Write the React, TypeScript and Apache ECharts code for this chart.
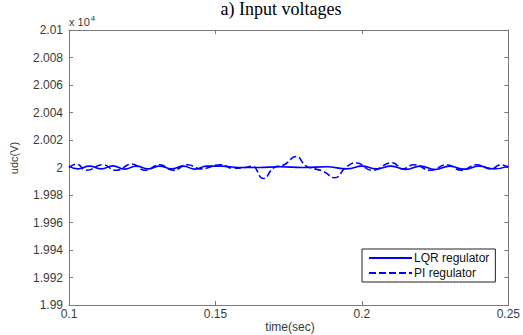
import React, { useEffect, useRef } from "react";
import * as echarts from "echarts";

const lqrTime = [0.1, 0.103, 0.107, 0.111, 0.115, 0.119, 0.123, 0.127, 0.131, 0.135, 0.139, 0.143, 0.147, 0.152, 0.158, 0.165, 0.172, 0.18, 0.188, 0.195, 0.2, 0.205, 0.21, 0.215, 0.22, 0.225, 0.23, 0.235, 0.24, 0.245, 0.25];
const lqrValues = [2.0001, 1.9999, 2.0001, 1.9999, 2.00012, 1.99988, 2.0001, 1.9999, 2.0001, 1.9999, 2.0001, 1.99988, 2.0001, 2.0001, 2.0, 2.0, 2.00005, 2.0, 2.00005, 1.9999, 2.0001, 1.9999, 2.0001, 1.99985, 2.0001, 1.99985, 2.0001, 1.99988, 2.0001, 1.9999, 2.0001];

const piTime = [0.1, 0.1025, 0.106, 0.1115, 0.116, 0.1215, 0.126, 0.131, 0.1355, 0.1405, 0.145, 0.1518, 0.156, 0.16, 0.1625, 0.1663, 0.17, 0.1735, 0.1775, 0.181, 0.184, 0.187, 0.1907, 0.1945, 0.1979, 0.2035, 0.2104, 0.214, 0.2178, 0.2235, 0.229, 0.234, 0.2392, 0.244, 0.2475, 0.25];
const piValues = [2.0, 2.00025, 1.9998, 2.0002, 1.9998, 2.00025, 1.9998, 2.0002, 1.9998, 2.0002, 1.9999, 2.0002, 1.99995, 2.0, 2.0001, 1.9992, 2.0, 2.0002, 2.0008, 2.0001, 1.9999, 1.9997, 1.99925, 2.0, 2.00035, 1.9998, 2.00035, 1.9999, 2.0002, 1.9998, 2.0002, 1.9998, 2.0002, 1.9999, 2.0002, 2.0];

const xMin = 0.1;
const xMax = 0.25;
const xStep = 0.05;
const yMin = 1.99;
const yMax = 2.01;
const yStep = 0.002;

const seriesNames = ["LQR regulator", "PI regulator"];
const titleText = "a) Input voltages";
const xName = "time(sec)";
const yName = "udc(V)";

export default function App() {
  const ref = useRef<HTMLDivElement>(null);
  useEffect(() => {
    if (!ref.current) return;
    const chart = echarts.init(ref.current, null, { renderer: "svg" });
    const axisColor = "#7a7a7a";
    const textColor = "#3a3a3a";
    const font = "Liberation Sans, Arial, sans-serif";
    const fmt = (v: number) => String(parseFloat(v.toFixed(4)));
    const xCommon = {
      type: "value" as const,
      min: xMin,
      max: xMax,
      interval: xStep,
      splitLine: { show: false },
      axisLine: { show: true, lineStyle: { color: axisColor, width: 1 } },
      axisTick: { show: true, inside: true, length: 4, lineStyle: { color: axisColor } },
    };
    const yCommon = {
      type: "value" as const,
      min: yMin,
      max: yMax,
      interval: yStep,
      splitLine: { show: false },
      axisLine: { show: true, lineStyle: { color: axisColor, width: 1 } },
      axisTick: { show: true, inside: true, length: 4, lineStyle: { color: axisColor } },
    };
    chart.setOption({
      animation: false,
      backgroundColor: "#ffffff",
      grid: { left: 69, right: 11, top: 30, bottom: 30, containLabel: false },
      xAxis: [
        {
          ...xCommon,
          position: "bottom",
          axisLabel: { formatter: fmt, color: textColor, fontFamily: font, fontSize: 12, margin: 3 },
        },
        { ...xCommon, position: "top", axisLabel: { show: false } },
      ],
      yAxis: [
        {
          ...yCommon,
          position: "left",
          axisLabel: { formatter: fmt, color: textColor, fontFamily: font, fontSize: 12, margin: 6 },
        },
        { ...yCommon, position: "right", axisLabel: { show: false } },
      ],
      legend: {
        orient: "vertical",
        left: 362,
        top: 249,
        width: 147,
        padding: [3, 6, 3, 6],
        itemGap: 3,
        itemWidth: 43,
        itemHeight: 10,
        borderColor: "#222",
        borderWidth: 1,
        backgroundColor: "#fff",
        borderRadius: 0,
        itemStyle: { color: "transparent", borderWidth: 0, opacity: 0 },
        textStyle: { color: "#111", fontFamily: font, fontSize: 12, padding: [0, 0, 0, -3] },
        data: seriesNames,
      },
      series: [
        {
          name: seriesNames[0],
          type: "line",
          smooth: 0.5,
          symbol: "none",
          data: lqrTime.map((t, i) => [t, lqrValues[i]]),
          lineStyle: { color: "#0000ff", width: 1.6 },
          itemStyle: { color: "#0000ff" },
        },
        {
          name: seriesNames[1],
          type: "line",
          smooth: 0.5,
          symbol: "none",
          data: piTime.map((t, i) => [t, piValues[i]]),
          lineStyle: { color: "#0000ff", width: 1.6, type: [7, 3] },
          itemStyle: { color: "#0000ff" },
        },
      ],
      graphic: [
        {
          type: "text",
          style: {
            text: titleText,
            x: 281,
            y: 0,
            align: "center",
            verticalAlign: "top",
            font: "18px 'Liberation Serif', 'Times New Roman', serif",
            fill: "#000",
          },
        },
        {
          type: "text",
          style: {
            text: "x 10{s|4}",
            x: 69,
            y: 22,
            verticalAlign: "middle",
            fill: textColor,
            font: "11px 'Liberation Sans', Arial, sans-serif",
            rich: { s: { fontSize: 8, verticalAlign: "top", padding: [0, 0, 7, 1], fill: textColor, fontFamily: font } },
          },
        },
        {
          type: "text",
          rotation: Math.PI / 2,
          x: 14,
          y: 158,
          style: {
            text: yName,
            align: "center",
            verticalAlign: "middle",
            fill: textColor,
            font: "11px 'Liberation Sans', Arial, sans-serif",
          },
        },
        {
          type: "text",
          style: {
            text: xName,
            x: 290,
            y: 327,
            align: "center",
            verticalAlign: "middle",
            fill: textColor,
            font: "12px 'Liberation Sans', Arial, sans-serif",
          },
        },
      ],
    });
    return () => chart.dispose();
  }, []);
  return <div ref={ref} style={{ width: 523, height: 335, position: "absolute", left: 0, top: 0 }} />;
}
